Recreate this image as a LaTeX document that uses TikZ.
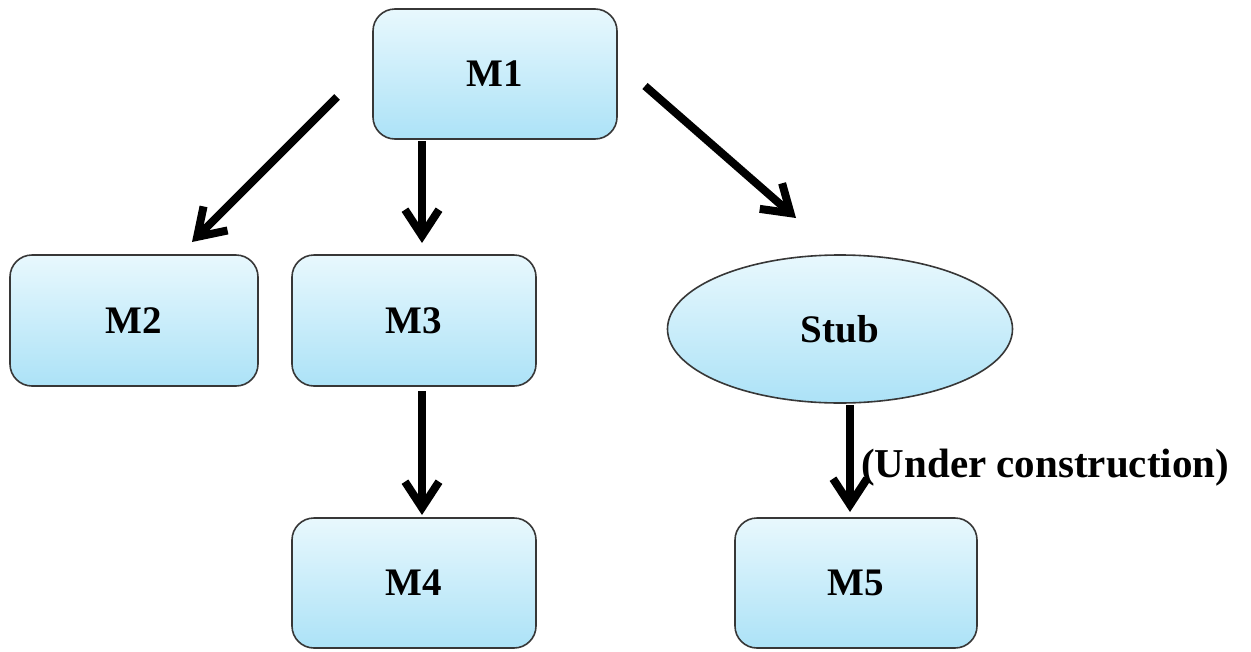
\documentclass[tikz,border=0pt]{standalone}
\usepackage{fontspec}
\setmainfont{Liberation Serif}
\usetikzlibrary{arrows.meta,shapes.geometric}
\definecolor{boxtop}{RGB}{232,248,253}
\definecolor{boxbot}{RGB}{172,226,247}
\definecolor{edge}{RGB}{55,55,55}
\tikzset{
  module/.style={draw=edge, line width=1.6pt, rounded corners=22pt,
    top color=boxtop, bottom color=boxbot,
    minimum width=244pt, minimum height=130pt,
    font=\fontsize{39}{42}\selectfont\bfseries},
  stubnode/.style={draw=edge, line width=1.6pt, ellipse,
    top color=boxtop, bottom color=boxbot,
    minimum width=345pt, minimum height=148pt, inner sep=0pt,
    font=\fontsize{39}{42}\selectfont\bfseries},
  call/.style={line width=8pt, -{Straight Barb[length=26pt,width=34pt]}},
  note/.style={font=\fontsize{41}{44}\selectfont\bfseries, inner sep=0pt}
}
\begin{document}
\begin{tikzpicture}[x=1pt,y=-1pt]
  \useasboundingbox (0,0) rectangle (1251,651);
  % modules
  \node[module] (M1) at (495,74) {M1};
  \node[module, minimum width=248pt, minimum height=131pt] (M2) at (134,320.5) {M2};
  \node[module, minimum height=131pt] (M3) at (414,320.5) {M3};
  \node[module] (M4) at (414,583) {M4};
  \node[module, minimum width=242pt] (M5) at (856,583) {M5};
  \node[stubnode] (S) at (840,329) {Stub};
  % arrow end points
  \coordinate (a1) at (337,97);   \coordinate (b1) at (192,242);
  \coordinate (a2) at (422,141);  \coordinate (b2) at (422,243);
  \coordinate (a3) at (645,86);   \coordinate (b3) at (796,218);
  \coordinate (a4) at (422,391);  \coordinate (b4) at (422,515);
  \coordinate (a5) at (850,405);  \coordinate (b5) at (850,512);
  % calls
  \draw[call] (a1) -- (b1);
  \draw[call] (a2) -- (b2);
  \draw[call] (a3) -- (b3);
  \draw[call] (a4) -- (b4);
  \draw[call] (a5) -- (b5);
  \node[note, anchor=west] (lbl) at (861,468) {(Under construction)};
\end{tikzpicture}
\end{document}
